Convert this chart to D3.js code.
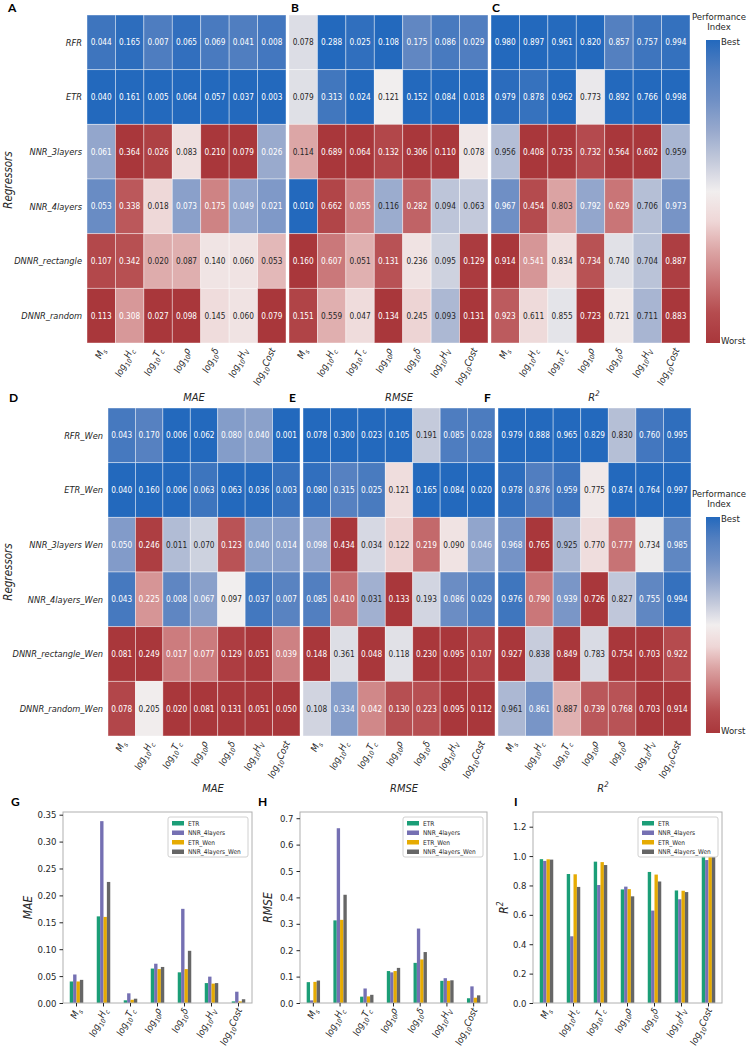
<!DOCTYPE html>
<html>
<head>
<meta charset="utf-8">
<script src="https://cdn.jsdelivr.net/npm/d3@7"></script>
<style>
body { margin: 0; background: #fff; }
svg { font-family: "DejaVu Sans Condensed", "DejaVu Sans", sans-serif; }
</style>
</head>
<body>
<svg id="chart" width="749" height="1047"></svg>
<script>
// ---- data ----
var features = ['M_{s}', 'log_{10}H_{c}', 'log_{10}T_{c}', 'log_{10}ρ', 'log_{10}δ', 'log_{10}H_{V}', 'log_{10}Cost'];
var regressors = ['RFR', 'ETR', 'NNR_3layers', 'NNR_4layers', 'DNNR_rectangle', 'DNNR_random'];
var regressorsWen = ['RFR_Wen', 'ETR_Wen', 'NNR_3layers Wen', 'NNR_4layers_Wen', 'DNNR_rectangle_Wen', 'DNNR_random_Wen'];

var maeTop = [
  [0.044, 0.165, 0.007, 0.065, 0.069, 0.041, 0.008],
  [0.040, 0.161, 0.005, 0.064, 0.057, 0.037, 0.003],
  [0.061, 0.364, 0.026, 0.083, 0.210, 0.079, 0.026],
  [0.053, 0.338, 0.018, 0.073, 0.175, 0.049, 0.021],
  [0.107, 0.342, 0.020, 0.087, 0.140, 0.060, 0.053],
  [0.113, 0.308, 0.027, 0.098, 0.145, 0.060, 0.079]
];
var rmseTop = [
  [0.078, 0.288, 0.025, 0.108, 0.175, 0.086, 0.029],
  [0.079, 0.313, 0.024, 0.121, 0.152, 0.084, 0.018],
  [0.114, 0.689, 0.064, 0.132, 0.306, 0.110, 0.078],
  [0.010, 0.662, 0.055, 0.116, 0.282, 0.094, 0.063],
  [0.160, 0.607, 0.051, 0.131, 0.236, 0.095, 0.129],
  [0.151, 0.559, 0.047, 0.134, 0.245, 0.093, 0.131]
];
var r2Top = [
  [0.980, 0.897, 0.961, 0.820, 0.857, 0.757, 0.994],
  [0.979, 0.878, 0.962, 0.773, 0.892, 0.766, 0.998],
  [0.956, 0.408, 0.735, 0.732, 0.564, 0.602, 0.959],
  [0.967, 0.454, 0.803, 0.792, 0.629, 0.706, 0.973],
  [0.914, 0.541, 0.834, 0.734, 0.740, 0.704, 0.887],
  [0.923, 0.611, 0.855, 0.723, 0.721, 0.711, 0.883]
];
var maeWen = [
  [0.043, 0.170, 0.006, 0.062, 0.080, 0.040, 0.001],
  [0.040, 0.160, 0.006, 0.063, 0.063, 0.036, 0.003],
  [0.050, 0.246, 0.011, 0.070, 0.123, 0.040, 0.014],
  [0.043, 0.225, 0.008, 0.067, 0.097, 0.037, 0.007],
  [0.081, 0.249, 0.017, 0.077, 0.129, 0.051, 0.039],
  [0.078, 0.205, 0.020, 0.081, 0.131, 0.051, 0.050]
];
var rmseWen = [
  [0.078, 0.300, 0.023, 0.105, 0.191, 0.085, 0.028],
  [0.080, 0.315, 0.025, 0.121, 0.165, 0.084, 0.020],
  [0.098, 0.434, 0.034, 0.122, 0.219, 0.090, 0.046],
  [0.085, 0.410, 0.031, 0.133, 0.193, 0.086, 0.029],
  [0.148, 0.361, 0.048, 0.118, 0.230, 0.095, 0.107],
  [0.108, 0.334, 0.042, 0.130, 0.223, 0.095, 0.112]
];
var r2Wen = [
  [0.979, 0.888, 0.965, 0.829, 0.830, 0.760, 0.995],
  [0.978, 0.876, 0.959, 0.775, 0.874, 0.764, 0.997],
  [0.968, 0.765, 0.925, 0.770, 0.777, 0.734, 0.985],
  [0.976, 0.790, 0.939, 0.726, 0.827, 0.755, 0.994],
  [0.927, 0.838, 0.849, 0.783, 0.754, 0.703, 0.922],
  [0.961, 0.861, 0.887, 0.739, 0.768, 0.703, 0.914]
];

var barSeries = ['ETR', 'NNR_4layers', 'ETR_Wen', 'NNR_4layers_Wen'];
var barColors = ['#1b9e77', '#7570b3', '#e6ab02', '#666666'];
var maeTicks = [0, 0.05, 0.10, 0.15, 0.20, 0.25, 0.30, 0.35];
var rmseTicks = [0, 0.1, 0.2, 0.3, 0.4, 0.5, 0.6, 0.7];
var r2Ticks = [0, 0.2, 0.4, 0.6, 0.8, 1.0, 1.2];

// ---- helpers ----
var svg = d3.select('#chart');
var ink = '#262626';
var fontFam = '"DejaVu Sans Condensed", "DejaVu Sans", sans-serif';

// vlag-like ramp, 0 = best (blue), 1 = worst (red)
var vlag = d3.scaleLinear()
  .domain([0, 0.05, 0.1, 0.2, 0.3, 0.4, 0.5, 0.6, 0.7, 0.8, 0.9, 1])
  .range(['#2369bd', '#3c74be', '#527fc0', '#7090c5', '#98a9cd', '#c4cadb', '#f1eeee',
          '#eed6d6', '#dba3a3', '#c97678', '#b54c4f', '#a9373b'])
  .interpolate(d3.interpolateRgb)
  .clamp(true);

function lum(c) {
  var rgb = d3.rgb(c);
  var f = function(v) { v = v / 255; return v <= 0.03928 ? v / 12.92 : Math.pow((v + 0.055) / 1.055, 2.4); };
  return 0.2126 * f(rgb.r) + 0.7152 * f(rgb.g) + 0.0722 * f(rgb.b);
}

// writes "log_{10}H_{c}" as italic text with subscripts
function mathText(sel, s) {
  var re = /_\{([^}]*)\}|([^_]+)/g, m, wasSub = false;
  while ((m = re.exec(s)) !== null) {
    if (m[1] !== undefined) {
      sel.append('tspan').attr('font-size', '0.7em').attr('dy', 3).text(m[1]);
      wasSub = true;
    } else {
      sel.append('tspan').attr('dy', wasSub ? -3 : 0).text(m[2]);
      wasSub = false;
    }
  }
}

function heatmap(data, rows, x0, x1, y0, y1, higherBetter, labelX) {
  var g = svg.append('g');
  var x = d3.scaleBand().domain(d3.range(features.length)).range([x0, x1]);
  var y = d3.scaleBand().domain(rows).range([y0, y1]);
  var ext = features.map(function(f, j) { return d3.extent(data, function(r) { return r[j]; }); });

  var cells = [];
  data.forEach(function(r, i) {
    r.forEach(function(v, j) {
      var t = (v - ext[j][0]) / (ext[j][1] - ext[j][0]);
      if (higherBetter) t = 1 - t;
      cells.push({ row: rows[i], col: j, v: v, c: vlag(t) });
    });
  });

  g.selectAll('rect.cell').data(cells).enter().append('rect')
    .attr('class', 'cell')
    .attr('x', function(d) { return x(d.col); })
    .attr('y', function(d) { return y(d.row); })
    .attr('width', x.bandwidth())
    .attr('height', y.bandwidth())
    .attr('fill', function(d) { return d.c; })
    .attr('stroke', 'rgba(255,255,255,0.5)')
    .attr('stroke-width', 0.8);

  g.selectAll('text.val').data(cells).enter().append('text')
    .attr('x', function(d) { return x(d.col) + x.bandwidth() / 2; })
    .attr('y', function(d) { return y(d.row) + y.bandwidth() / 2; })
    .attr('dy', '0.35em')
    .attr('text-anchor', 'middle')
    .attr('font-size', 8.2)
    .attr('fill', function(d) { return lum(d.c) > 0.408 ? ink : '#fff'; })
    .text(function(d) { return d3.format('.3f')(d.v); });

  if (labelX !== null) {
    g.selectAll('text.row').data(rows).enter().append('text')
      .attr('x', labelX)
      .attr('y', function(d) { return y(d) + y.bandwidth() / 2; })
      .attr('dy', '0.35em')
      .attr('text-anchor', 'end')
      .attr('font-size', 9.2)
      .attr('font-style', 'italic')
      .attr('fill', ink)
      .text(function(d) { return d; });
  }

  features.forEach(function(f, j) {
    var t = g.append('text')
      .attr('transform', 'translate(' + (x(j) + x.bandwidth() / 2 + 4) + ',' + (y1 + 7) + ') rotate(-65)')
      .attr('text-anchor', 'end')
      .attr('dy', '0.35em')
      .attr('font-size', 9.5)
      .attr('font-style', 'italic')
      .attr('fill', ink);
    mathText(t, f);
  });
}

function colorbar(id, cx, top, bottom, titleY) {
  var grad = svg.append('defs').append('linearGradient').attr('id', id)
    .attr('x1', 0).attr('x2', 0).attr('y1', 0).attr('y2', 1);
  d3.range(0, 1.0001, 0.05).forEach(function(t) {
    grad.append('stop').attr('offset', t).attr('stop-color', vlag(t));
  });
  svg.append('rect').attr('x', cx).attr('y', top).attr('width', 14).attr('height', bottom - top)
    .attr('fill', 'url(#' + id + ')');
  svg.append('text').attr('x', 719).attr('y', titleY).attr('text-anchor', 'middle')
    .attr('font-size', 9.5).attr('fill', ink).text('Performance');
  svg.append('text').attr('x', 719).attr('y', titleY + 10).attr('text-anchor', 'middle')
    .attr('font-size', 9.5).attr('fill', ink).text('Index');
  svg.append('text').attr('x', cx + 15).attr('y', top + 2).attr('dy', '0.35em')
    .attr('font-size', 9.5).attr('fill', ink).text('Best');
  svg.append('text').attr('x', cx + 15).attr('y', bottom - 2).attr('dy', '0.35em')
    .attr('font-size', 9.5).attr('fill', ink).text('Worst');
}

function label(txt, x, y, opts) {
  var t = svg.append('text').attr('x', x).attr('y', y).attr('fill', opts.color || ink)
    .attr('font-size', opts.size || 11)
    .attr('text-anchor', opts.anchor || 'start');
  if (opts.family) t.attr('font-family', opts.family);
  if (opts.bold) t.attr('font-weight', 'bold');
  if (opts.italic) t.attr('font-style', 'italic');
  if (opts.rotate) t.attr('transform', 'rotate(-90,' + x + ',' + y + ')');
  if (opts.sup) {
    t.append('tspan').text(txt);
    t.append('tspan').attr('font-size', '0.7em').attr('dy', -5).text(opts.sup);
  } else {
    t.text(txt);
  }
  return t;
}

function barPanel(top, wen, ticks, fmt, x0, x1, ymax, yName, ySup, yLabelX) {
  var yt = 812, yb = 1003;
  var x = d3.scaleBand().domain(d3.range(features.length)).range([x0, x1]);
  var y = d3.scaleLinear().domain([0, ymax]).range([yb, yt]);
  var g = svg.append('g');
  var series = [top[1], top[3], wen[1], wen[3]];
  var bw = x.bandwidth() * 0.125;

  series.forEach(function(vals, s) {
    g.selectAll('rect.s' + s).data(vals).enter().append('rect')
      .attr('x', function(d, j) { return x(j) + x.bandwidth() / 2 + (s - 2) * bw; })
      .attr('y', function(d) { return y(d); })
      .attr('width', bw)
      .attr('height', function(d) { return yb - y(d); })
      .attr('fill', barColors[s]);
  });

  g.append('rect').attr('x', x0).attr('y', yt).attr('width', x1 - x0).attr('height', yb - yt)
    .attr('fill', 'none').attr('stroke', '#b0b0b0').attr('stroke-width', 1);

  var ax = g.append('g').attr('transform', 'translate(' + x0 + ',0)')
    .call(d3.axisLeft(y).tickValues(ticks).tickFormat(d3.format(fmt)).tickSize(3.5));
  ax.select('.domain').remove();
  ax.selectAll('line').attr('stroke', ink);
  ax.selectAll('text').attr('font-size', 9.5).attr('fill', ink).attr('font-family', fontFam);

  g.selectAll('line.xt').data(d3.range(features.length)).enter().append('line')
    .attr('x1', function(j) { return x(j) + x.bandwidth() / 2; })
    .attr('x2', function(j) { return x(j) + x.bandwidth() / 2; })
    .attr('y1', yb).attr('y2', yb + 3.5).attr('stroke', ink);

  features.forEach(function(f, j) {
    var t = g.append('text')
      .attr('transform', 'translate(' + (x(j) + x.bandwidth() / 2 + 4) + ',' + (yb + 7) + ') rotate(-65)')
      .attr('text-anchor', 'end')
      .attr('dy', '0.35em')
      .attr('font-size', 9.5)
      .attr('font-style', 'italic')
      .attr('fill', ink);
    mathText(t, f);
  });

  // legend
  var lx = x1 - 84, ly = yt + 5;
  g.append('rect').attr('x', lx).attr('y', ly).attr('width', 80).attr('height', 40)
    .attr('rx', 2).attr('fill', '#fff').attr('fill-opacity', 0.8).attr('stroke', '#d0d0d0');
  barSeries.forEach(function(n, s) {
    g.append('rect').attr('x', lx + 4).attr('y', ly + 4 + s * 9.5).attr('width', 12).attr('height', 4.5)
      .attr('fill', barColors[s]);
    g.append('text').attr('x', lx + 20).attr('y', ly + 6.5 + s * 9.5).attr('dy', '0.35em')
      .attr('font-size', 6.5).attr('fill', ink).text(n);
  });

  label(yName, yLabelX, (yt + yb) / 2, { italic: true, rotate: true, anchor: 'middle', size: 12, sup: ySup });
}

// ---- top row: A, B, C ----
heatmap(maeTop, regressors, 87, 286, 15, 343, false, 82);
heatmap(rmseTop, regressors, 289, 488, 15, 343, false, null);
heatmap(r2Top, regressors, 491, 690, 15, 343, true, null);
colorbar('cbTop', 706, 40, 343, 20);
label('Regressors', 12, 180, { italic: true, rotate: true, anchor: 'middle', size: 11.5 });

// ---- middle row: D, E, F ----
heatmap(maeWen, regressorsWen, 108, 300, 408, 736, false, 103);
heatmap(rmseWen, regressorsWen, 303, 495, 408, 736, false, null);
heatmap(r2Wen, regressorsWen, 498, 691, 408, 736, true, null);
colorbar('cbWen', 706, 517, 733, 497);
label('Regressors', 12, 572, { italic: true, rotate: true, anchor: 'middle', size: 11.5 });
label('MAE', 194, 401, { italic: true, anchor: 'middle', size: 11 });
label('RMSE', 399, 401, { italic: true, anchor: 'middle', size: 11 });
label('R', 594, 401, { italic: true, anchor: 'middle', size: 11, sup: '2' });

// ---- bottom row: G, H, I ----
barPanel(maeTop, maeWen, maeTicks, '.2f', 63, 252, 0.355, 'MAE', null, 32);
barPanel(rmseTop, rmseWen, rmseTicks, '.1f', 300, 487, 0.7235, 'RMSE', null, 272);
barPanel(r2Top, r2Wen, r2Ticks, '.1f', 533, 722, 1.3, 'R', '2', 508);
label('MAE', 213, 792, { italic: true, anchor: 'middle', size: 11 });
label('RMSE', 404, 792, { italic: true, anchor: 'middle', size: 11 });
label('R', 603, 792, { italic: true, anchor: 'middle', size: 11, sup: '2' });

// ---- panel letters ----
[['A', 8, 12], ['B', 291, 12], ['C', 492, 12],
 ['D', 9, 402], ['E', 289, 402], ['F', 484, 402],
 ['G', 11, 806], ['H', 258, 806], ['I', 514, 806]].forEach(function(p) {
  label(p[0], p[1], p[2], { bold: true, size: 12, color: '#000', family: 'Lato, "DejaVu Sans", sans-serif' });
});
</script>
</body>
</html>
